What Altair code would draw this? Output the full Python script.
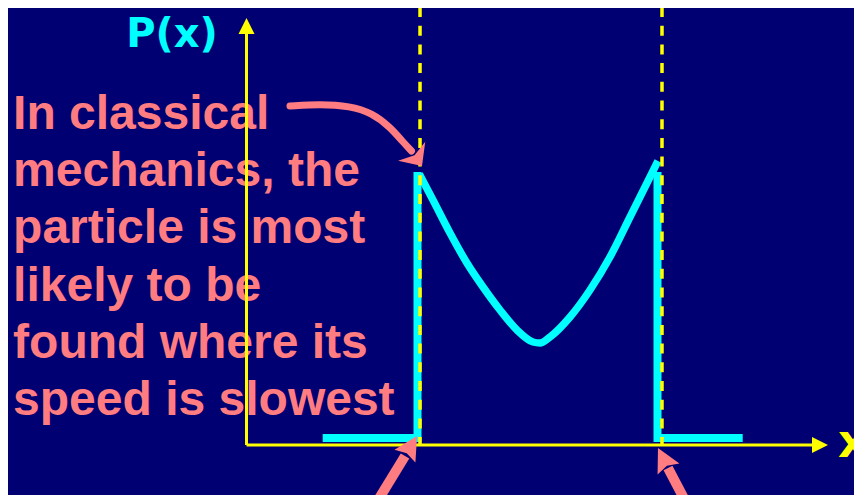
import math
import altair as alt
import pandas as pd

# ---- data (x in units of the amplitude A, y in arbitrary probability units) ----
curve_x = [-0.985, -0.871, -0.729, -0.588, -0.454, -0.3125, -0.171, -0.0375, 0.021,
           0.104, 0.271, 0.4375, 0.604, 0.771, 0.9375, 1.004]
curve_y = [2.71, 2.45, 2.12, 1.82, 1.58, 1.35, 1.15, 1.03, 1.02,
           1.08, 1.28, 1.55, 1.88, 2.28, 2.68, 2.84]

left_step_x = [-1.79, -1.0, -1.0]
left_step_y = [0.07, 0.07, 2.73]
right_step_x = [1.0, 1.0, 1.71]
right_step_y = [2.73, 0.07, 0.07]

turning_points = [-0.979, 1.0375]          # dashed lines x = -A, +A
dash_y = [4.38, 0.0]

y_axis_x = -2.425
y_axis_tip = 4.27
x_axis_tip = 2.421

text_lines = ["In classical", "mechanics, the", "particle is most",
              "likely to be", "found where its", "speed is slowest"]
text_pos = (-4.37, 3.16)
ylabel_text, ylabel_pos = "P(x)", (-3.046, 3.98)
xlabel_text, xlabel_pos = "x", (2.504, -0.12)

curved_arrow_x = [-2.0625, -1.8125, -1.5625, -1.379, -1.229, -1.121, -1.05]
curved_arrow_y = [3.39, 3.41, 3.39, 3.32, 3.18, 3.03, 2.94]
curved_arrow_tip = (-0.9625, 2.79)

left_arrow_x = [-1.379, -1.104]
left_arrow_y = [-0.65, -0.11]
left_arrow_tip = (-1.004, 0.09)

right_arrow_x = [1.271, 1.0875]
right_arrow_y = [-0.65, -0.23]
right_arrow_tip = (1.004, -0.03)

# ---- layout / style ----
W, H = 846, 487
XDOM = [-4.4125, 2.6375]
YDOM = [-0.50, 4.37]
BG = "#000072"
CYAN = "#00ffff"
YELLOW = "#ffff00"
SALMON = "#ff7c80"

PX_X = W / (XDOM[1] - XDOM[0])
PX_Y = H / (YDOM[1] - YDOM[0])


def angle_of(p0, p1):
    dx = (p1[0] - p0[0]) * PX_X
    dy = -(p1[1] - p0[1]) * PX_Y
    return math.degrees(math.atan2(dx, -dy)) % 360


xs = alt.Scale(domain=XDOM, nice=False, zero=False)
ys = alt.Scale(domain=YDOM, nice=False, zero=False)


def X(f="x"):
    return alt.X(f"{f}:Q", scale=xs, axis=None)


def Y(f="y"):
    return alt.Y(f"{f}:Q", scale=ys, axis=None)


def seg_df(segs):
    rows = []
    for name, xv, yv in segs:
        for i, (a, b) in enumerate(zip(xv, yv)):
            rows.append({"seg": name, "i": i, "x": a, "y": b})
    return pd.DataFrame(rows)


# text block
text_df = pd.DataFrame([{"x": text_pos[0], "y": text_pos[1], "t": "\n".join(text_lines)}])
text_layer = alt.Chart(text_df).mark_text(
    align="left", baseline="alphabetic", lineBreak="\n", lineHeight=57.2,
    font="Liberation Sans", fontWeight="bold", fontSize=48, color=SALMON
).encode(x=X(), y=Y(), text="t:N")

# cyan probability
steps_df = seg_df([("L", left_step_x, left_step_y), ("R", right_step_x, right_step_y)])
steps_layer = alt.Chart(steps_df).mark_line(
    color=CYAN, strokeWidth=8, strokeCap="butt", strokeJoin="miter"
).encode(x=X(), y=Y(), detail="seg:N", order="i:Q")

curve_df = pd.DataFrame({"x": curve_x, "y": curve_y})
curve_layer = alt.Chart(curve_df).mark_line(
    color=CYAN, strokeWidth=7.5, interpolate="monotone", strokeCap="butt"
).encode(x=X(), y=Y())

# axes
axes_df = seg_df([("yax", [y_axis_x, y_axis_x], [0.0, y_axis_tip - 0.1]),
                  ("xax", [y_axis_x, x_axis_tip - 0.1], [0.0, 0.0])])
axes_layer = alt.Chart(axes_df).mark_line(color=YELLOW, strokeWidth=3).encode(
    x=X(), y=Y(), detail="seg:N", order="i:Q")

heads_df = pd.DataFrame([
    {"x": y_axis_x, "y": y_axis_tip, "a": angle_of((y_axis_x, 0), (y_axis_x, y_axis_tip))},
    {"x": x_axis_tip, "y": 0.0, "a": angle_of((y_axis_x, 0), (x_axis_tip, 0))},
])
TRI = "M0,0L0.5,1L-0.5,1Z"
axis_heads = alt.Chart(heads_df).mark_point(
    shape=TRI, filled=True, fill=YELLOW, stroke=None, opacity=1, size=1024
).encode(x=X(), y=Y(), angle=alt.Angle("a:Q", scale=None))

# dashed turning-point lines
dash_df = seg_df([(f"d{k}", [tx, tx], dash_y) for k, tx in enumerate(turning_points)])
dash_layer = alt.Chart(dash_df).mark_line(
    color=YELLOW, strokeWidth=3.5, strokeDash=[10, 8.7], strokeCap="butt"
).encode(x=X(), y=Y(), detail="seg:N", order="i:Q")

# labels
lab_df = pd.DataFrame([{"x": ylabel_pos[0], "y": ylabel_pos[1], "t": ylabel_text}])
ylab = alt.Chart(lab_df).mark_text(
    align="center", baseline="alphabetic", font="DejaVu Sans", fontWeight="bold",
    fontSize=40, color=CYAN
).encode(x=X(), y=Y(), text="t:N")
xlab_df = pd.DataFrame([{"x": xlabel_pos[0], "y": xlabel_pos[1], "t": xlabel_text}])
xlab = alt.Chart(xlab_df).mark_text(
    align="left", baseline="alphabetic", font="DejaVu Sans", fontWeight="bold",
    fontSize=46, color=YELLOW
).encode(x=X(), y=Y(), text="t:N")

# salmon arrows
curved_df = pd.DataFrame({"x": curved_arrow_x, "y": curved_arrow_y, "i": range(len(curved_arrow_x))})
curved_shaft = alt.Chart(curved_df).mark_line(
    color=SALMON, strokeWidth=7, interpolate="basis", strokeCap="round"
).encode(x=X(), y=Y(), order="i:Q")
curved_head_df = pd.DataFrame([{
    "x": curved_arrow_tip[0], "y": curved_arrow_tip[1],
    "a": angle_of((curved_arrow_x[-1], curved_arrow_y[-1]), curved_arrow_tip)}])
curved_head = alt.Chart(curved_head_df).mark_point(
    shape="M0,0L0.92,1L0,0.72L-0.92,1Z", filled=True, fill=SALMON, stroke=None,
    opacity=1, size=1300
).encode(x=X(), y=Y(), angle=alt.Angle("a:Q", scale=None))

straight_df = seg_df([("bl", left_arrow_x, left_arrow_y), ("br", right_arrow_x, right_arrow_y)])
straight_shafts = alt.Chart(straight_df).mark_line(
    color=SALMON, strokeWidth=10, strokeCap="butt"
).encode(x=X(), y=Y(), detail="seg:N", order="i:Q")
straight_heads_df = pd.DataFrame([
    {"x": left_arrow_tip[0], "y": left_arrow_tip[1],
     "a": angle_of((left_arrow_x[-1], left_arrow_y[-1]), left_arrow_tip)},
    {"x": right_arrow_tip[0], "y": right_arrow_tip[1],
     "a": angle_of((right_arrow_x[-1], right_arrow_y[-1]), right_arrow_tip)},
])
straight_heads = alt.Chart(straight_heads_df).mark_point(
    shape="M0,0L0.52,1L0,0.85L-0.52,1Z", filled=True, fill=SALMON, stroke=None,
    opacity=1, size=2209
).encode(x=X(), y=Y(), angle=alt.Angle("a:Q", scale=None))

chart = alt.layer(
    text_layer, steps_layer, curve_layer, axes_layer, axis_heads, dash_layer,
    ylab, xlab, curved_shaft, curved_head, straight_shafts, straight_heads
).properties(
    width=W, height=H, padding=0,
    autosize=alt.AutoSizeParams(type="none"),
    background=BG,
).configure_view(stroke=None)

chart.save("out.html", embed_options={"renderer": "svg", "actions": False})
